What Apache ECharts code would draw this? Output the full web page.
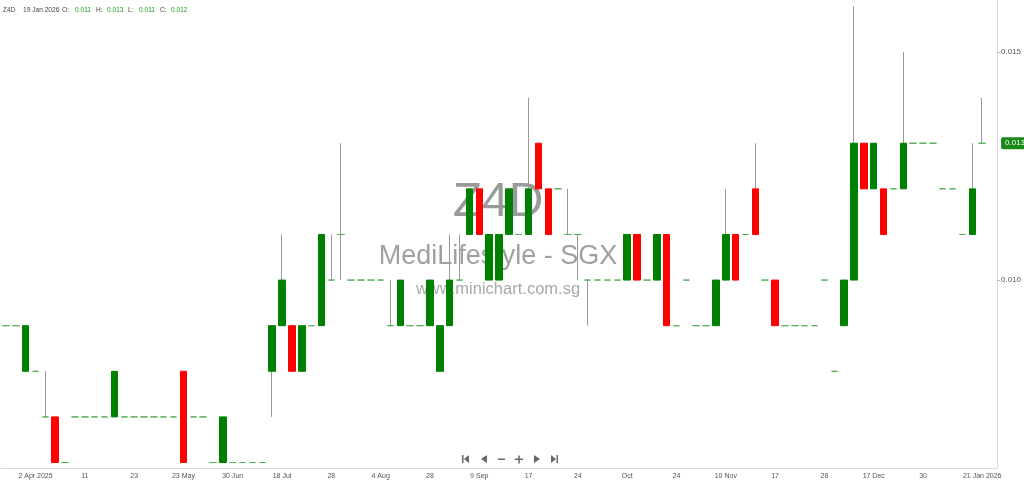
<!DOCTYPE html>
<html>
<head>
<meta charset="utf-8">
<title>Z4D MediLifestyle - SGX</title>
<script src="https://cdn.jsdelivr.net/npm/echarts@6/dist/echarts.min.js"></script>
<style>
  html, body { margin: 0; padding: 0; background: #fff; }
  #chart { width: 1024px; height: 484px; }
</style>
</head>
<body>
<div id="chart"></div>
<script>
// daily bars (null = no trade)
var opens = [
  0.009, 0.009, 0.008, 0.008, 0.007, 0.007, 0.006, 0.007, 0.007, 0.007,
  0.007, 0.007, 0.007, 0.007, 0.007, 0.007, 0.007, 0.007, 0.008, 0.007,
  0.007, 0.006, 0.006, 0.006, 0.006, 0.006, 0.006, 0.008, 0.009, 0.009,
  0.008, 0.009, 0.009, 0.010, 0.011, 0.010, 0.010, 0.010, 0.010, 0.009,
  0.009, 0.009, 0.009, 0.009, 0.008, 0.009, 0.010, 0.011, 0.012, 0.010,
  0.010, 0.011, 0.011, 0.011, 0.013, 0.012, 0.012, 0.011, 0.011, 0.010,
  0.010, 0.010, 0.010, 0.010, 0.011, 0.010, 0.010, 0.011, 0.009, 0.010,
  0.009, 0.009, 0.009, 0.010, 0.011, 0.011, 0.012, 0.010, 0.010, 0.009,
  0.009, 0.009, 0.009, 0.010, 0.008, 0.009, 0.010, 0.013, 0.012, 0.012,
  0.012, 0.012, 0.013, 0.013, 0.013, 0.012, 0.012, 0.011, 0.011, 0.013
];
var highs = [
  0.009, 0.009, 0.009, 0.008, 0.008, 0.007, 0.006, 0.007, 0.007, 0.007,
  0.007, 0.008, 0.007, 0.007, 0.007, 0.007, 0.007, 0.007, 0.008, 0.007,
  0.007, 0.006, 0.007, 0.006, 0.006, 0.006, 0.006, 0.009, 0.011, 0.009,
  0.009, 0.009, 0.011, 0.011, 0.013, 0.010, 0.010, 0.010, 0.010, 0.010,
  0.010, 0.009, 0.009, 0.010, 0.009, 0.011, 0.011, 0.012, 0.012, 0.011,
  0.011, 0.012, 0.011, 0.014, 0.013, 0.012, 0.012, 0.012, 0.011, 0.010,
  0.010, 0.010, 0.010, 0.011, 0.011, 0.010, 0.011, 0.011, 0.009, 0.010,
  0.009, 0.009, 0.010, 0.012, 0.011, 0.011, 0.013, 0.010, 0.010, 0.009,
  0.009, 0.009, 0.009, 0.010, 0.008, 0.010, 0.016, 0.013, 0.013, 0.012,
  0.012, 0.015, 0.013, 0.013, 0.013, 0.012, 0.012, 0.011, 0.013, 0.014
];
var lows = [
  0.009, 0.009, 0.008, 0.008, 0.007, 0.006, 0.006, 0.007, 0.007, 0.007,
  0.007, 0.007, 0.007, 0.007, 0.007, 0.007, 0.007, 0.007, 0.006, 0.007,
  0.007, 0.006, 0.006, 0.006, 0.006, 0.006, 0.006, 0.007, 0.009, 0.008,
  0.008, 0.009, 0.009, 0.010, 0.010, 0.010, 0.010, 0.010, 0.010, 0.009,
  0.009, 0.009, 0.009, 0.009, 0.008, 0.009, 0.010, 0.011, 0.011, 0.010,
  0.010, 0.011, 0.011, 0.011, 0.012, 0.011, 0.012, 0.011, 0.010, 0.009,
  0.010, 0.010, 0.010, 0.010, 0.010, 0.010, 0.010, 0.009, 0.009, 0.010,
  0.009, 0.009, 0.009, 0.010, 0.010, 0.011, 0.011, 0.010, 0.009, 0.009,
  0.009, 0.009, 0.009, 0.010, 0.008, 0.009, 0.010, 0.012, 0.012, 0.011,
  0.012, 0.012, 0.013, 0.013, 0.013, 0.012, 0.012, 0.011, 0.011, 0.013
];
var closes = [
  0.009, 0.009, 0.009, 0.008, 0.007, 0.006, 0.006, 0.007, 0.007, 0.007,
  0.007, 0.008, 0.007, 0.007, 0.007, 0.007, 0.007, 0.007, 0.006, 0.007,
  0.007, 0.006, 0.007, 0.006, 0.006, 0.006, 0.006, 0.009, 0.010, 0.008,
  0.009, 0.009, 0.011, 0.010, 0.011, 0.010, 0.010, 0.010, 0.010, 0.009,
  0.010, 0.009, 0.009, 0.010, 0.009, 0.010, 0.010, 0.012, 0.011, 0.011,
  0.011, 0.012, 0.011, 0.012, 0.012, 0.011, 0.012, 0.011, 0.011, 0.010,
  0.010, 0.010, 0.010, 0.011, 0.010, 0.010, 0.011, 0.009, 0.009, 0.010,
  0.009, 0.009, 0.010, 0.011, 0.010, 0.011, 0.011, 0.010, 0.009, 0.009,
  0.009, 0.009, 0.009, 0.010, 0.008, 0.010, 0.013, 0.012, 0.013, 0.011,
  0.012, 0.013, 0.013, 0.013, 0.013, 0.012, 0.012, 0.011, 0.012, 0.013
];

// x labels: slot index -> text
var labelSlots = [3, 8, 13, 18, 23, 28, 33, 38, 43, 48, 53, 58, 63, 68, 73, 78, 83, 88, 93, 99];
var labelTexts = ['2 Apr 2025', '11', '23', '23 May', '30 Jun', '18 Jul', '28', '4 Aug', '28', '9 Sep',
  '17', '24', 'Oct', '24', '10 Nov', '17', '28', '17 Dec', '30', '21 Jan 2026'];
var priceTicks = [0.010, 0.015];

// one spare slot on the right, like the original
var categories = [];
for (var i = 0; i <= opens.length; i++) categories.push('s' + i);

var tickLabel = {};
labelSlots.forEach(function (s, k) { tickLabel[s] = labelTexts[k]; });

var wickData = [];
var bodyData = [];
for (var j = 0; j < opens.length; j++) {
  if (opens[j] == null) { wickData.push('-'); bodyData.push('-'); continue; }
  wickData.push([opens[j], closes[j], lows[j], highs[j]]);
  bodyData.push([opens[j], closes[j], Math.min(opens[j], closes[j]), Math.max(opens[j], closes[j])]);
}
var last = closes[closes.length - 1];

var GREEN = '#008000';
var RED = '#ff0000';
var DOJI = '#55ad55';
var GREY = '#999999';
var FONT = '"Liberation Sans", Arial, sans-serif';

function txt(x, text, color) {
  return {
    type: 'text', x: x, y: 7,
    style: { text: text, fill: color, font: '6.6px ' + FONT }
  };
}
function tri(points) {
  return { type: 'polygon', shape: { points: points }, style: { fill: '#666' } };
}
function mark(y, text, size, color) {
  return {
    type: 'text', x: 498, y: y, z: -10, silent: true,
    style: { text: text, fill: color, font: size + 'px ' + FONT, align: 'center', verticalAlign: 'middle' }
  };
}

var chart = echarts.init(document.getElementById('chart'));
chart.setOption({
  backgroundColor: '#fff',
  animation: false,
  grid: { left: 1, top: 0, width: 996, height: 468 },
  xAxis: {
    type: 'category',
    data: categories,
    boundaryGap: true,
    axisLine: { lineStyle: { color: '#dcdcdc' } },
    axisTick: {
      alignWithLabel: true, length: 3,
      interval: function (idx) { return tickLabel[idx] !== undefined; },
      lineStyle: { color: '#bbb' }
    },
    axisLabel: {
      interval: function (idx) { return tickLabel[idx] !== undefined; },
      formatter: function (v, idx) { return tickLabel[idx] || ''; },
      fontSize: 7, color: '#555', margin: 5, fontFamily: FONT
    },
    splitLine: { show: false }
  },
  yAxis: {
    type: 'value',
    position: 'right',
    min: 0.00588,
    max: 0.01614,
    axisLine: { show: true, lineStyle: { color: '#dcdcdc' } },
    axisTick: { show: true, length: 3, customValues: priceTicks, lineStyle: { color: '#bbb' } },
    axisLabel: {
      customValues: priceTicks,
      formatter: function (v) { return v.toFixed(3); },
      fontSize: 8, color: '#555', margin: 4, fontFamily: FONT
    },
    splitLine: { show: false }
  },
  graphic: [
    // watermark
    mark(203, 'Z4D', 48, '#9a9a9a'),
    mark(257, 'MediLifestyle - SGX', 27, '#a0a0a0'),
    mark(289, 'www.minichart.com.sg', 16.5, '#a8a8a8'),
    // header
    txt(3, 'Z4D', '#444'),
    txt(23, '19 Jan 2026', '#444'),
    txt(62, 'O:', '#444'),
    txt(75, opens[98].toFixed(3), '#1f9a1f'),
    txt(96, 'H:', '#444'),
    txt(107, highs[98].toFixed(3), '#1f9a1f'),
    txt(128, 'L:', '#444'),
    txt(139, lows[98].toFixed(3), '#1f9a1f'),
    txt(160, 'C:', '#444'),
    txt(171, closes[98].toFixed(3), '#1f9a1f'),
    // navigation buttons
    { type: 'rect', shape: { x: 462, y: 455, width: 1.5, height: 8 }, style: { fill: '#666' } },
    tri([[469, 455], [469, 463], [464, 459]]),
    tri([[487, 455], [487, 463], [481, 459]]),
    { type: 'rect', shape: { x: 498, y: 458.5, width: 7, height: 1.5 }, style: { fill: '#666' } },
    { type: 'rect', shape: { x: 515, y: 458.5, width: 8, height: 1.5 }, style: { fill: '#666' } },
    { type: 'rect', shape: { x: 518.3, y: 455.5, width: 1.5, height: 8 }, style: { fill: '#666' } },
    tri([[534, 455], [534, 463], [540, 459]]),
    tri([[551, 455], [551, 463], [556, 459]]),
    { type: 'rect', shape: { x: 556.5, y: 455, width: 1.5, height: 8 }, style: { fill: '#666' } }
  ],
  series: [
    {
      name: 'wick',
      type: 'candlestick',
      data: wickData,
      barWidth: 1,
      silent: true,
      itemStyle: {
        color: GREY, color0: GREY,
        borderColor: GREY, borderColor0: GREY, borderColorDoji: GREY,
        borderWidth: 1
      }
    },
    {
      name: 'Z4D',
      type: 'candlestick',
      data: bodyData,
      barWidth: 7,
      silent: true,
      itemStyle: {
        color: GREEN, color0: RED,
        borderColor: GREEN, borderColor0: RED, borderColorDoji: DOJI,
        borderWidth: 1
      },
      // last price tag on the right axis
      markLine: {
        silent: true,
        symbol: 'none',
        data: [[{ coord: [0, last] }, { coord: [categories.length - 1, last] }]],
        lineStyle: { color: 'rgba(0,0,0,0)', width: 1, type: 'solid' },
        label: {
          show: true, position: 'end', distance: 9,
          formatter: function () { return last.toFixed(3); },
          color: '#fff', fontSize: 8, backgroundColor: '#178a17',
          padding: [2, 4, 2, 4], borderRadius: 2, fontFamily: FONT
        }
      }
    }
  ]
});
</script>
</body>
</html>
